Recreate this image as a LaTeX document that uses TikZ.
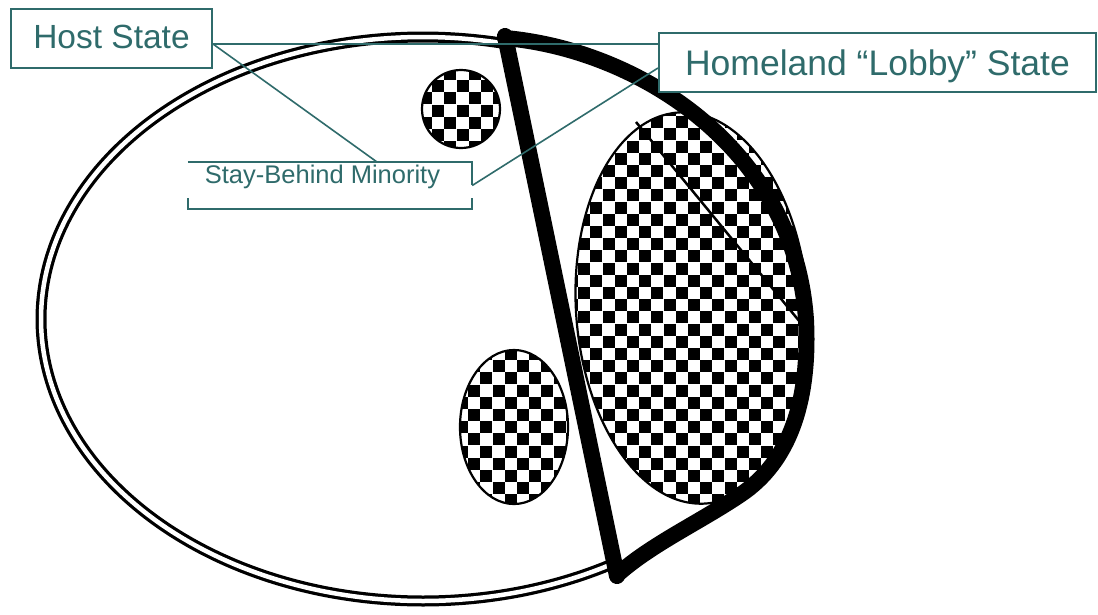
\documentclass[tikz,border=0pt]{standalone}
\usepackage{fontspec}
\setmainfont{Liberation Sans}
\usetikzlibrary{calc}
\definecolor{tealx}{RGB}{47,107,107}
\newcommand\mychecker[4]{%
  \foreach \j in {0,...,#4}{\foreach \i in {0,...,#3}{%
    \fill ({#1+24.4*\i+12.2*mod(\j,2)},{#2+12.2*\j}) rectangle ++(12,12);}}}
\begin{document}
\begin{tikzpicture}[x=1pt,y=-1pt,
  lbl/.style={draw=tealx, line width=2pt, text=tealx, inner sep=0pt, fill=white},
  conn/.style={draw=tealx, line width=1.6pt},
  outl/.style={draw=black, line width=2.2pt},
  thickband/.style={draw=black, line width=16pt, line join=round, line cap=round},
  ]
\useasboundingbox (0,0) rectangle (1098,614);
\fill[white] (0,0) rectangle (1098,614);

% ---- checkered regions ----
\begin{scope}
  \clip[rotate around={4:(692,308)}] (692,308) ellipse [x radius=116pt, y radius=196pt];
  \mychecker{566}{104}{11}{34}
\end{scope}
\draw[outl, rotate around={4:(692,308)}] (692,308) ellipse [x radius=116pt, y radius=196pt];

\begin{scope}
  \clip (461,109) circle [radius=39pt];
  \mychecker{420}{68}{3}{6}
\end{scope}
\draw[outl] (461,109) circle [radius=39pt];

\begin{scope}
  \clip (514,427) ellipse [x radius=54pt, y radius=77pt];
  \mychecker{456}{348}{4}{13}
\end{scope}
\draw[outl] (514,427) ellipse [x radius=54pt, y radius=77pt];

% thin chord in the big region
\draw[line width=2.5pt] (636,122) -- (800,322);

% ---- host state double outline ----
\draw[black, line width=11pt] plot[smooth, samples=120, domain=77:300] ({423+382*cos(\x)},{319-282*sin(\x)});
\draw[white, line width=4.5pt] plot[smooth, samples=120, domain=77:300] ({423+382*cos(\x)},{319-282*sin(\x)});

% ---- homeland thick border ----
\draw[thickband] (505,36) -- (617,576);
\draw[thickband] (505,38) .. controls (640,50) and (795,150) .. (806,320)
   .. controls (810,400) and (790,462) .. (740,495)
   .. controls (700,522) and (650,545) .. (617,575);

% ---- labels ----
\coordinate (hy) at (0,44);
\coordinate (sbtop) at (377,162);
\node[lbl, minimum width=201pt, minimum height=59pt, text height=19pt, text depth=0pt,
      font=\fontsize{33.5}{40}\selectfont] (host) at (111.5,38.5) {Host State};
\node[lbl, minimum width=437pt, minimum height=59pt, text height=25pt, text depth=0pt,
      font=\fontsize{35.5}{42}\selectfont] (home) at (877.5,62.5) {Homeland “Lobby” State};
\node[minimum width=284pt, minimum height=47pt, inner sep=0pt] (sbm) at (330,185.5) {};
\node[anchor=base, text=tealx, inner sep=0pt, font=\fontsize{25.5}{30}\selectfont] (sbmtext) at (322.5,183) {Stay-Behind Minority};

\coordinate (hl) at ($(home.north west)!0.59!(home.south west)$);
\draw[conn] (host.east |- hy) -- (home.west |- hy);
\draw[conn] (host.east |- hy) -- (sbtop);
\draw[conn] (hl) -- (sbm.east);

\draw[conn, line width=2pt] (sbm.north west) -- (sbm.north east) -- ++(0,23.5);
\draw[conn, line width=2pt] (sbm.east) ++(0,12.5) -- (sbm.south east) -- (sbm.south west) -- ++(0,-11);
\end{tikzpicture}
\end{document}
